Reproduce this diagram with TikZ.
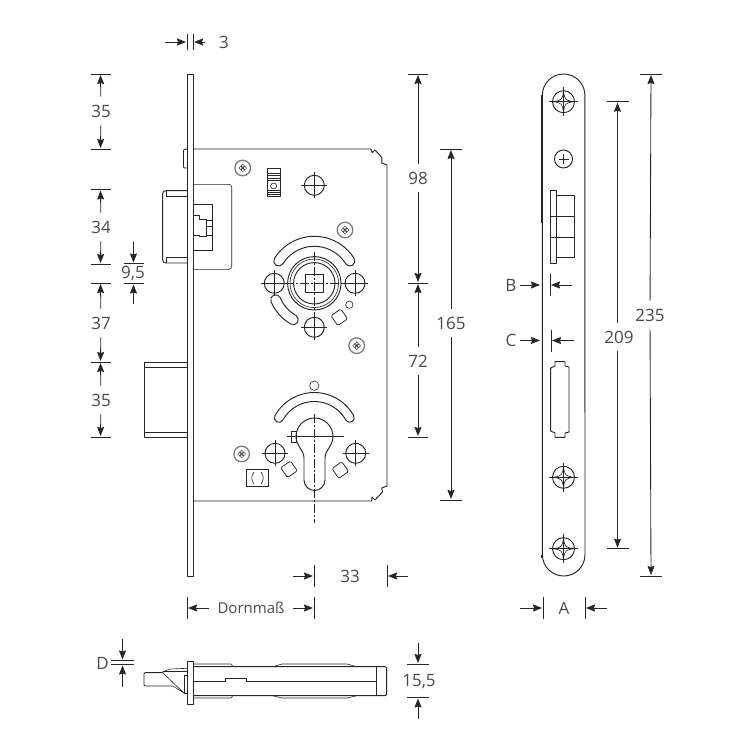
\documentclass[tikz,border=0pt]{standalone}
\usepackage{fontspec}
\setmainfont{Open Sans}
\usetikzlibrary{arrows.meta}
\definecolor{inkline}{HTML}{262626}
\definecolor{inktext}{HTML}{4A4A4A}
\tikzset{>={Stealth[length=9pt,width=7pt,inset=1pt]}}
\tikzset{
	part/.style={draw=inkline, line width=0.95pt, line join=round},
	fine/.style={draw=inkline, line width=0.6pt},
	axis/.style={draw=inkline, line width=0.7pt, dash pattern=on 9pt off 2pt on 2pt off 2pt},
	dimline/.style={draw=inkline, line width=0.85pt},
	dimarrow/.style={draw=inkline, line width=0.85pt, ->, shorten >=1pt},
	dimlabel/.style={text=inktext, font=\fontsize{17}{20}\selectfont, inner sep=8pt},
	pics/bore/.style={code={
		\draw[part] (0,0) circle (10);
		\draw[fine] (-13,0) -- (13,0) (0,-13) -- (0,13);
	}},
	pics/smallscrew/.style={code={
		\draw[draw=inkline!60, line width=1.3pt] (0,0) circle (7.8);
		\draw[draw=inkline!80, line width=0.5pt] (-2.2,0) circle (1.7) (2.2,0) circle (1.7) (0,-2.2) circle (1.7) (0,2.2) circle (1.7);
	}},
	pics/platescrew/.style={code={
		\draw[part] (0,0) circle (11);
		\draw[fine] (-14.5,0) -- (14.5,0) (0,-14.5) -- (0,14.5);
		\draw[fine] (0,-10.5) .. controls (1.5,-1.5) .. (10.5,0) .. controls (1.5,1.5) .. (0,10.5) .. controls (-1.5,1.5) .. (-10.5,0) .. controls (-1.5,-1.5) .. (0,-10.5);
	}},
	pics/cornerdiamond/.style={code={
		\draw[fine, line width=0.75pt, rounded corners=1.5pt, rotate=35] (-6,-6) rectangle (6,6);
	}},
}
% slot with round ends: centre, first angle, second angle, inner radius, outer radius
\newcommand{\ringslot}[5]{
	\path[part] (#1) ++(#2:#5) arc[start angle=#2, end angle=#3, radius=#5]
		arc[start angle=#3, delta angle=180, radius={(#5-#4)/2}]
		arc[start angle=#3, end angle=#2, radius=#4]
		arc[start angle=#2+180, delta angle=180, radius={(#5-#4)/2}] -- cycle;
}
\begin{document}
\begin{tikzpicture}[x=1pt,y=1pt,yscale=-1]
	\useasboundingbox (0,0) rectangle (750,750);

	% side view of the lock
	\draw[part] (187,74) rectangle (193,576);
	\draw[part, rounded corners=1pt] (187,149) -- (183.5,149.5) -- (183.5,168) -- (187,168);
	\draw[part] (193,149) -- (370.7,149) -- (372.3,152.7) -- (375,150) -- (382,157.5) -- (381.7,163) -- (387,165) -- (387,486) -- (381.7,488) -- (382.5,492) -- (375,500) -- (372,497) -- (371.7,501) -- (193,501);
	\draw[part, rounded corners=3pt] (187,190.7) -- (162.7,190.7) -- (162.7,263) -- (187,263);
	\draw[fine] (187,196) -- (166,196) -- (166,190.7) (187,257) -- (166,257) -- (166,263);
	\draw[fine, rounded corners=3pt] (193,184.3) -- (231.7,184.3) -- (231.7,269.3) -- (193,269.3);
	\draw[part] (193,204.3) -- (212,204.3) -- (212,250.7) -- (193,250.7);
	\draw[part] (193,215.7) -- (199,215.7) -- (199,219) -- (206.7,219) -- (206.7,236.7) -- (199,236.7) -- (199,235) -- (193,235);
	\draw[fine] (206.7,220) -- (211.7,220) (206.7,226) -- (211.7,226) (206.7,235) -- (211.7,235);
	\draw[part] (187,362) -- (144,362) -- (144,437) -- (187,437) (144,367) -- (187,367) (144,432) -- (187,432);

	% parts at the top of the case
	\pic at (242.7,168) {smallscrew};
	\draw[part] (267.3,168) rectangle (280.7,196);
	\draw[fine] (267.3,173.3) -- (280.7,173.3) (267.3,175.6) -- (280.7,175.6) (267.3,178) -- (280.7,178) (267.3,180.5) -- (280.7,180.5) (267.3,190) -- (280.7,190) (267.3,192.3) -- (280.7,192.3) (267.3,194.3) -- (280.7,194.3);
	\draw[fine] (273.7,186) circle (3);
	\pic at (314.3,185.3) {bore};
	\pic at (345,230) {smallscrew};
	\pic at (356.7,345.7) {smallscrew};

	% follower
	\ringslot{314.3,283.3}{212}{328}{37}{47}
	\ringslot{314.3,283.3}{120}{157}{37}{47}
	\draw[part] (314.3,283.3) circle (26.7) circle (20.7);
	\draw[fine] (314.3,283.3) circle (24.3);
	\draw[part] (305.3,274.3) rectangle (323.3,292.3);
	\draw[axis] (314.3,251.5) -- (314.3,314);
	\draw[axis] (285,283.3) -- (344,283.3);
	\pic at (274.3,283.3) {bore};
	\pic at (355,283.3) {bore};
	\pic at (314.3,327.3) {bore};
	\draw[fine] (349.3,304.7) circle (3.7);
	\pic at (339.3,317.3) {cornerdiamond};

	% cylinder
	\draw[fine] (314.3,385.7) circle (4.7);
	\ringslot{314.3,437.5}{209}{331}{36}{45}
	\draw[part] (304,480) arc[start angle=180, end angle=0, radius=10.5] -- (325,458) .. controls (325,450) and (333,446) .. (333,436.5) arc[start angle=0, end angle=-180, radius=18.5] .. controls (296,446) and (304,450) .. (304,458) -- cycle;
	\draw[part] (291,431.7) rectangle (296.5,442.7);
	\draw[fine] (287,436) -- (344,436);
	\draw[axis] (314.3,414) -- (314.3,523);
	\pic at (275,453.3) {bore};
	\pic at (355.7,453.3) {bore};
	\pic at (289,469.3) {cornerdiamond};
	\pic at (340.3,470) {cornerdiamond};
	\pic at (241.7,454) {smallscrew};
	\draw[part] (246.7,469.3) rectangle (268.3,486);
	\draw[fine] (254,472) .. controls (251,476) and (251,480) .. (254,484) (261,472) .. controls (264,476) and (264,480) .. (261,484);

	% front view of the plate
	\draw[part] (542.3,95.3) arc[start angle=180, end angle=360, radius=21.3] -- (585,554.7) arc[start angle=0, end angle=180, radius=21.3] -- cycle;
	\draw[part] (541.8,95.3) -- (541.8,223) (541.6,554.7) -- (541.6,558);
	\pic at (563.5,101.7) {platescrew};
	\pic at (563.5,477.3) {platescrew};
	\pic at (563.5,548.7) {platescrew};
	\draw[part] (563.5,159) circle (9);
	\draw[fine] (558.5,159) -- (568.5,159) (563.5,154) -- (563.5,164);
	\draw[part] (550,190) rectangle (556.7,263.3);
	\draw[part] (556.7,195.3) rectangle (574.7,257.3);
	\draw[fine] (550,216) -- (574.7,216) (550,237.3) -- (574.7,237.3);
	\draw[part] (555,361.7) -- (565,361.7) -- (565,366) -- (569,367) -- (569,432) -- (565,433) -- (565,437.3) -- (555,437.3) -- (555,433) -- (550.7,431) -- (550.7,368) -- (555,366) -- cycle;

	% view from below
	\draw[part, rounded corners=2pt] (193.3,666.7) -- (386.7,666.7) -- (386.7,695.7) -- (193.3,695.7);
	\draw[part] (187,661.7) rectangle (193.3,704);
	\draw[fine] (193.3,664) -- (231,664) -- (233,666.7) (193.3,698) -- (231,698) -- (233,695.7);
	\draw[fine] (272.7,666.7) -- (282,664) -- (347,664) -- (356.7,666.7) (272.7,695.7) -- (282,698) -- (347,698) -- (356.7,695.7);
	\draw[fine] (376,666.7) -- (376,695.7);
	\draw[part] (193.3,681.7) -- (225,681.7) -- (225,678.3) -- (246.7,678.3) -- (246.7,681.7) -- (376,681.7);
	\draw[part, rounded corners=1pt] (163,672.7) -- (144,672.7) -- (144,686) -- (173,686);
	\draw[fine] (163,672.7) -- (163,671.7) -- (170,669) -- (187,668.3);
	\draw[fine] (163,672.7) -- (165,675) -- (184.3,693.3) -- (173,686);
	\draw[fine] (163,671.7) -- (187,671.7);
	\draw[fine] (184.3,675) rectangle (187,693.3);

	% dimensions on the left
	\node[dimlabel] (lbla) at (101,111) {35};
	\node[dimlabel] (lblb) at (101,227) {34};
	\node[dimlabel] (lblc) at (133,273.5) {9,5};
	\node[dimlabel] (lbld) at (101,323) {37};
	\node[dimlabel] (lble) at (101,400) {35};
	\coordinate (ta) at (100.5,74);
	\coordinate (tb) at (100.5,149);
	\coordinate (tc) at (100.5,189.5);
	\coordinate (td) at (100.5,264);
	\coordinate (te) at (100.5,283);
	\coordinate (tf) at (100.5,362);
	\coordinate (tg) at (100.5,437);
	\coordinate (th) at (133.5,263.5);
	\coordinate (ti) at (133.5,283.5);
	\coordinate (thup) at (133.5,242);
	\coordinate (tidown) at (133.5,304);
	\draw[dimline] ([xshift=-10]ta) -- ([xshift=10]ta);
	\draw[dimline] ([xshift=-10]tb) -- ([xshift=10]tb);
	\draw[dimline] ([xshift=-10]tc) -- ([xshift=10]tc);
	\draw[dimline] ([xshift=-10]td) -- ([xshift=10]td);
	\draw[dimline] ([xshift=-10]te) -- ([xshift=10]te);
	\draw[dimline] ([xshift=-10]tf) -- ([xshift=10]tf);
	\draw[dimline] ([xshift=-10]tg) -- ([xshift=10]tg);
	\draw[dimline] ([xshift=-10]th) -- ([xshift=10]th);
	\draw[dimline] ([xshift=-10]ti) -- ([xshift=10]ti);
	\draw[dimarrow] (lbla) -- (ta);
	\draw[dimarrow] (lbla) -- (tb);
	\draw[dimarrow] (lblb) -- (tc);
	\draw[dimarrow] (lblb) -- (td);
	\draw[dimarrow] (lbld) -- (te);
	\draw[dimarrow] (lbld) -- (tf);
	\draw[dimarrow] (lble) -- (tf);
	\draw[dimarrow] (lble) -- (tg);
	\draw[dimarrow] (thup) -- (th);
	\draw[dimarrow] (tidown) -- (ti);

	% plate thickness
	\node[dimlabel] (lblthick) at (224,42) {3};
	\coordinate (thickl) at (187,42);
	\coordinate (thickr) at (193,42);
	\coordinate (thickla) at (165,42);
	\coordinate (thickra) at (205,42);
	\draw[dimline] ([yshift=-8]thickl) -- ([yshift=8]thickl);
	\draw[dimline] ([yshift=-8]thickr) -- ([yshift=8]thickr);
	\draw[dimarrow] (thickla) -- (thickl);
	\draw[dimarrow] (thickra) -- (thickr);

	% dimensions between the views
	\node[dimlabel] (lbl98) at (418,178) {98};
	\node[dimlabel] (lbl72) at (418,361) {72};
	\node[dimlabel] (lbl165) at (451,323) {165};
	\coordinate (tj) at (418,74);
	\coordinate (tk) at (418,283);
	\coordinate (tl) at (418,437);
	\coordinate (tm) at (451,149);
	\coordinate (tn) at (451,500);
	\draw[dimline] ([xshift=-10]tj) -- ([xshift=10]tj);
	\draw[dimline] ([xshift=-10]tk) -- ([xshift=10]tk);
	\draw[dimline] ([xshift=-10]tl) -- ([xshift=10]tl);
	\draw[dimline] ([xshift=-11]tm) -- ([xshift=11]tm);
	\draw[dimline] ([xshift=-11]tn) -- ([xshift=11]tn);
	\draw[dimarrow] (lbl98) -- (tj);
	\draw[dimarrow] (lbl98) -- (tk);
	\draw[dimarrow] (lbl72) -- (tk);
	\draw[dimarrow] (lbl72) -- (tl);
	\draw[dimarrow] (lbl165) -- (tm);
	\draw[dimarrow] (lbl165) -- (tn);

	% dimensions of the plate
	\node[dimlabel] (lbl209) at (619,337) {209};
	\node[dimlabel] (lbl235) at (650,315) {235};
	\coordinate (to) at (617.5,101.7);
	\coordinate (tp) at (617.5,548.7);
	\coordinate (tq) at (651,74);
	\coordinate (tr) at (651,576);
	\draw[dimline] ([xshift=-11]to) -- ([xshift=11]to);
	\draw[dimline] ([xshift=-11]tp) -- ([xshift=11]tp);
	\draw[dimline] ([xshift=-11]tq) -- ([xshift=11]tq);
	\draw[dimline] ([xshift=-11]tr) -- ([xshift=11]tr);
	\draw[dimarrow] (lbl209.north -| to) -- (to);
	\draw[dimarrow] (lbl209.south -| tp) -- (tp);
	\draw[dimarrow] (lbl235) -- (tq);
	\draw[dimarrow] (lbl235) -- (tr);

	\node[dimlabel, inner sep=0pt] (lblB) at (511,285) {B};
	\coordinate (bl) at (541,285);
	\coordinate (br) at (550,285);
	\coordinate (bra) at (572,285);
	\draw[dimline] ([yshift=-11]br) -- ([yshift=11]br);
	\draw[dimarrow, shorten <=3pt] (lblB) -- (bl);
	\draw[dimarrow] (bra) -- (br);
	\node[dimlabel, inner sep=0pt] (lblC) at (511,340.5) {C};
	\coordinate (cl) at (541,340.5);
	\coordinate (cr) at (551,340.5);
	\coordinate (cra) at (574,340.5);
	\draw[dimline] ([yshift=-11]cr) -- ([yshift=11]cr);
	\draw[dimarrow, shorten <=3pt] (lblC) -- (cl);
	\draw[dimarrow] (cra) -- (cr);
	\node[dimlabel] (lblA) at (564,608) {A};
	\coordinate (al) at (543,608);
	\coordinate (ar) at (585,608);
	\coordinate (ala) at (520,608);
	\coordinate (ara) at (607,608);
	\draw[dimline] ([yshift=-11]al) -- ([yshift=11]al);
	\draw[dimline] ([yshift=-11]ar) -- ([yshift=11]ar);
	\draw[dimarrow] (ala) -- (al);
	\draw[dimarrow] (ara) -- (ar);

	% dimensions below the lock
	\node[dimlabel] (lbl33) at (350,576) {33};
	\coordinate (sl) at (314,576);
	\coordinate (sr) at (387,576);
	\coordinate (sla) at (293,576);
	\coordinate (sra) at (408,576);
	\draw[dimline] ([yshift=-11]sl) -- ([yshift=11]sl);
	\draw[dimline] ([yshift=-11]sr) -- ([yshift=11]sr);
	\draw[dimarrow] (sla) -- (sl);
	\draw[dimarrow] (sra) -- (sr);
	\node[dimlabel, font=\fontsize{15}{18}\selectfont] (lbldorn) at (251,608) {Dornmaß};
	\coordinate (dl) at (187,608);
	\coordinate (dr) at (314,608);
	\draw[dimline] ([yshift=-11]dl) -- ([yshift=11]dl);
	\draw[dimline] ([yshift=-11]dr) -- ([yshift=11]dr);
	\draw[dimarrow] (lbldorn) -- (dl);
	\draw[dimarrow] (lbldorn) -- (dr);

	% dimensions of the bottom view
	\node[dimlabel, inner sep=0pt] (lblD) at (102.5,663) {D};
	\coordinate (da) at (122.5,660.5);
	\coordinate (db) at (122.5,664.5);
	\coordinate (daa) at (122.5,639);
	\coordinate (dba) at (122.5,687);
	\draw[dimline] ([xshift=-11.5]da) -- ([xshift=11.5]da);
	\draw[dimline] ([xshift=-11.5]db) -- ([xshift=11.5]db);
	\draw[dimarrow] (daa) -- (da);
	\draw[dimarrow] (dba) -- (db);
	\node[dimlabel] (lblw) at (419,681.5) {15,5};
	\coordinate (wa) at (418,664);
	\coordinate (wb) at (418,697.5);
	\coordinate (waa) at (418,642.5);
	\coordinate (wba) at (418,719);
	\draw[dimline] ([xshift=-11]wa) -- ([xshift=11]wa);
	\draw[dimline] ([xshift=-11]wb) -- ([xshift=11]wb);
	\draw[dimarrow] (waa) -- (wa);
	\draw[dimarrow] (wba) -- (wb);
\end{tikzpicture}
\end{document}
